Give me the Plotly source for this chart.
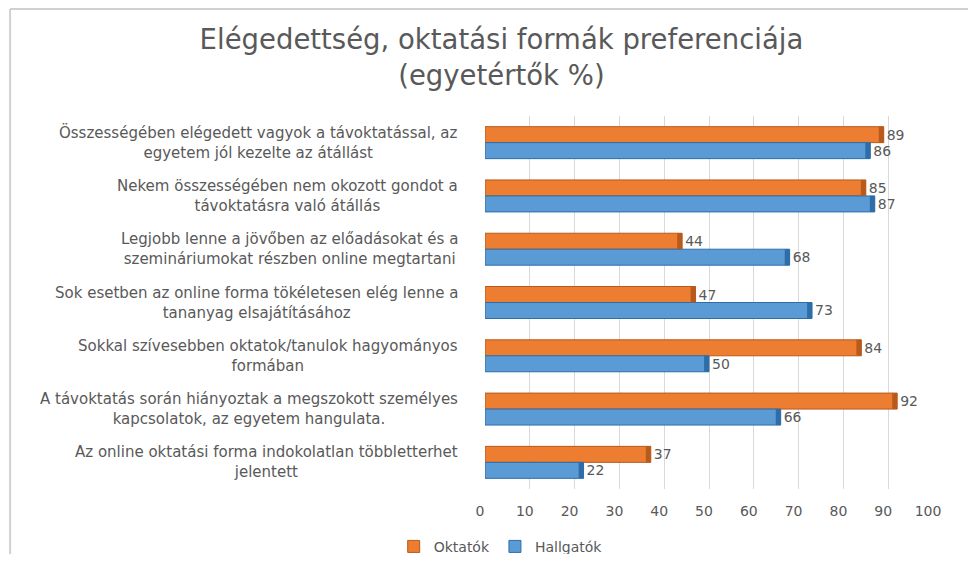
import plotly.graph_objects as go

categories = [
    "Összességében elégedett vagyok a távoktatással, az<br>egyetem jól kezelte az átállást",
    "Nekem összességében nem okozott gondot a<br>távoktatásra való átállás",
    "Legjobb lenne a jövőben az előadásokat és a<br>szemináriumokat részben online megtartani",
    "Sok esetben az online forma tökéletesen elég lenne a<br>tananyag elsajátításához",
    "Sokkal szívesebben oktatok/tanulok hagyományos<br>formában",
    "A távoktatás során hiányoztak a megszokott személyes<br>kapcsolatok, az egyetem hangulata.",
    "Az online oktatási forma indokolatlan többletterhet<br>jelentett",
]
oktatok = [89, 85, 44, 47, 84, 92, 37]
hallgatok = [86, 87, 68, 73, 50, 66, 22]
x_ticks = [0, 10, 20, 30, 40, 50, 60, 70, 80, 90, 100]

ORANGE = "#ED7D31"
ORANGE_D = "#B85A1C"
BLUE = "#5B9BD5"
BLUE_D = "#2E6DA8"
GREY = "#595959"
FONT = "DejaVu Sans"
CAP = 1.1  # width of the shaded 3D end cap, in axis units

ids = list(range(len(categories)))

fig = go.Figure()
fig.add_trace(go.Bar(
    y=ids, x=oktatok, name="Oktatók", orientation="h", offsetgroup="o",
    marker=dict(color=ORANGE, line=dict(color=ORANGE_D, width=1)),
    text=oktatok, textposition="outside", cliponaxis=False,
    textfont=dict(color=GREY, size=14, family=FONT),
))
fig.add_trace(go.Bar(
    y=ids, x=hallgatok, name="Hallgatók", orientation="h", offsetgroup="h",
    marker=dict(color=BLUE, line=dict(color=BLUE_D, width=1)),
    text=hallgatok, textposition="outside", cliponaxis=False,
    textfont=dict(color=GREY, size=14, family=FONT),
))
# darker end caps imitating the 3D look of the original
fig.add_trace(go.Bar(
    y=ids, x=[CAP] * len(oktatok), base=[v - CAP for v in oktatok],
    orientation="h", offsetgroup="o", showlegend=False, hoverinfo="skip",
    marker=dict(color=ORANGE_D, line=dict(width=0)),
))
fig.add_trace(go.Bar(
    y=ids, x=[CAP] * len(hallgatok), base=[v - CAP for v in hallgatok],
    orientation="h", offsetgroup="h", showlegend=False, hoverinfo="skip",
    marker=dict(color=BLUE_D, line=dict(width=0)),
))

annotations = []
for i, c in enumerate(categories):
    annotations.append(dict(
        x=-0.056, xref="paper", y=i, yref="y", text=c, showarrow=False,
        xanchor="right", yanchor="middle", align="center",
        font=dict(color=GREY, size=15, family=FONT),
    ))

fig.update_layout(
    width=960, height=546,
    margin=dict(l=477, r=35, t=108, b=65, autoexpand=False),
    paper_bgcolor="white", plot_bgcolor="white",
    barmode="group", bargap=0.4, bargroupgap=0.0,
    title=dict(
        text="Elégedettség, oktatási formák preferenciája<br>(egyetértők %)",
        x=0.514, xanchor="center", y=0.925, yanchor="top",
        font=dict(color=GREY, size=27.5, family=FONT),
    ),
    xaxis=dict(
        range=[0, 100], tickvals=x_ticks, showgrid=True, gridcolor="#D9D9D9",
        gridwidth=1, zeroline=False, showline=False,
        tickfont=dict(color=GREY, size=14, family=FONT), ticks="",
        ticklabelstandoff=12, ticklabelshift=-5,
    ),
    yaxis=dict(
        tickvals=ids, showticklabels=False,
        showgrid=False, zeroline=False, showline=False,
        range=[6.5, -0.5],
    ),
    legend=dict(
        orientation="h", x=0.035, xanchor="center", y=-0.155, yanchor="middle",
        font=dict(color=GREY, size=14, family=FONT), traceorder="normal",
    ),
    annotations=annotations,
    shapes=[
        dict(type="line", xref="paper", yref="paper", x0=-1.06, x1=1.15,
             y0=1.287, y1=1.287, line=dict(color="#D0D0D0", width=2)),
        dict(type="line", xref="paper", yref="paper", x0=-1.06, x1=-1.06,
             y0=1.287, y1=-0.25, line=dict(color="#D0D0D0", width=2)),
    ],
)

fig.write_html("out.html")
